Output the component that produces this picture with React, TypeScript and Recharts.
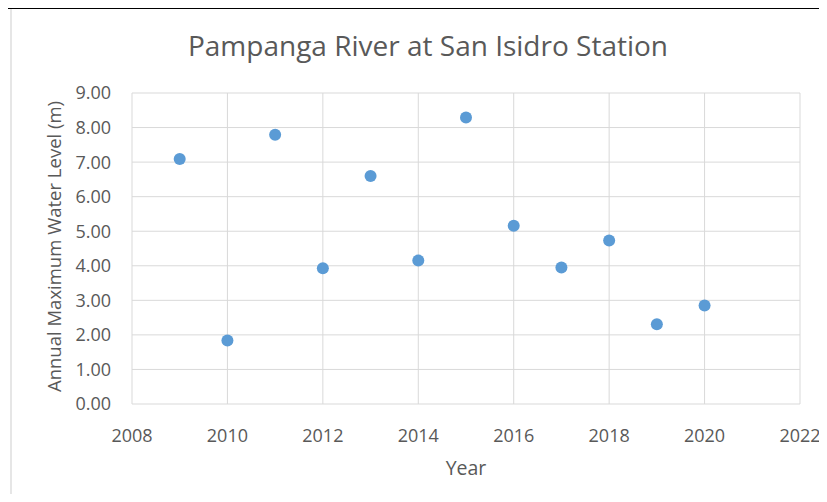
import React from "react";
import { ScatterChart, Scatter, XAxis, YAxis, CartesianGrid, Label } from "recharts";

const years = [2009, 2010, 2011, 2012, 2013, 2014, 2015, 2016, 2017, 2018, 2019, 2020];
const maxLevels = [7.09, 1.84, 7.79, 3.93, 6.6, 4.15, 8.29, 5.16, 3.95, 4.73, 2.31, 2.85];
const xTicks = [2008, 2010, 2012, 2014, 2016, 2018, 2020, 2022];
const yTicks = [0, 1, 2, 3, 4, 5, 6, 7, 8, 9];
const sheetColumns = [88, 170, 254, 336, 419, 502, 584, 667, 749];

const data = years.map((year, i) => ({ year, level: maxLevels[i] }));

const FONT = "'Open Sans', 'Noto Sans', sans-serif";
const TEXT = "#595959";

export default function App() {
  return (
    <div style={{ position: "relative", width: 827, height: 502, margin: -8, background: "#fff", overflow: "hidden" }}>
      {sheetColumns.map((x) => (
        <div key={x} style={{ position: "absolute", left: x - 1, top: 0, width: 2, height: 8, background: "#000" }} />
      ))}
      <div style={{ position: "absolute", left: 0, top: 7, width: 827, height: 2, background: "#000" }} />
      <div style={{ position: "absolute", left: 0, top: 7, width: 7, height: 4, background: "#000" }} />
      <div style={{ position: "absolute", left: 10, top: 9, width: 2, height: 493, background: "#e6e6e6" }} />
      <div
        style={{
          position: "absolute",
          left: 0,
          top: 26,
          width: 856,
          textAlign: "center",
          fontFamily: FONT,
          fontSize: 28,
          color: TEXT,
          lineHeight: "38px",
        }}
      >
        Pampanga River at San Isidro Station
      </div>
      <div style={{ position: "absolute", left: 0, top: 0 }}>
        <ScatterChart width={827} height={502} margin={{ top: 93, right: 27, bottom: 8, left: 0 }}>
          <CartesianGrid stroke="#d9d9d9" strokeWidth={1} />
          <XAxis
            type="number"
            dataKey="year"
            domain={[2008, 2022]}
            ticks={xTicks}
            height={90}
            axisLine={false}
            tickLine={false}
            tickSize={0}
            tickMargin={25}
            tick={{ fill: TEXT, fontSize: 18, fontFamily: FONT }}
          >
            <Label
              content={(props: any) => {
                const vb = props.viewBox;
                return (
                  <text x={vb.x + vb.width / 2} y={vb.y + 71} textAnchor="middle" fill={TEXT} fontSize={19.5} fontFamily={FONT}>
                    Year
                  </text>
                );
              }}
            />
          </XAxis>
          <YAxis
            type="number"
            dataKey="level"
            domain={[0, 9]}
            ticks={yTicks}
            width={132}
            axisLine={false}
            tickLine={false}
            tickSize={0}
            tickMargin={21}
            tickFormatter={(v: number) => v.toFixed(2)}
            tick={{ fill: TEXT, fontSize: 18, fontFamily: FONT }}
          >
            <Label
              content={(props: any) => {
                const vb = props.viewBox;
                const cx = vb.x + 61;
                const cy = vb.y + vb.height / 2 - 2;
                return (
                  <text x={cx} y={cy} transform={`rotate(-90, ${cx}, ${cy})`} textAnchor="middle" fill={TEXT} fontSize={18.5} fontFamily={FONT}>
                    Annual Maximum Water Level (m)
                  </text>
                );
              }}
            />
          </YAxis>
          <Scatter data={data} fill="#5b9bd5" shape={(p: any) => <circle cx={p.cx} cy={p.cy} r={6} fill="#5b9bd5" />} isAnimationActive={false} />
        </ScatterChart>
      </div>
    </div>
  );
}
